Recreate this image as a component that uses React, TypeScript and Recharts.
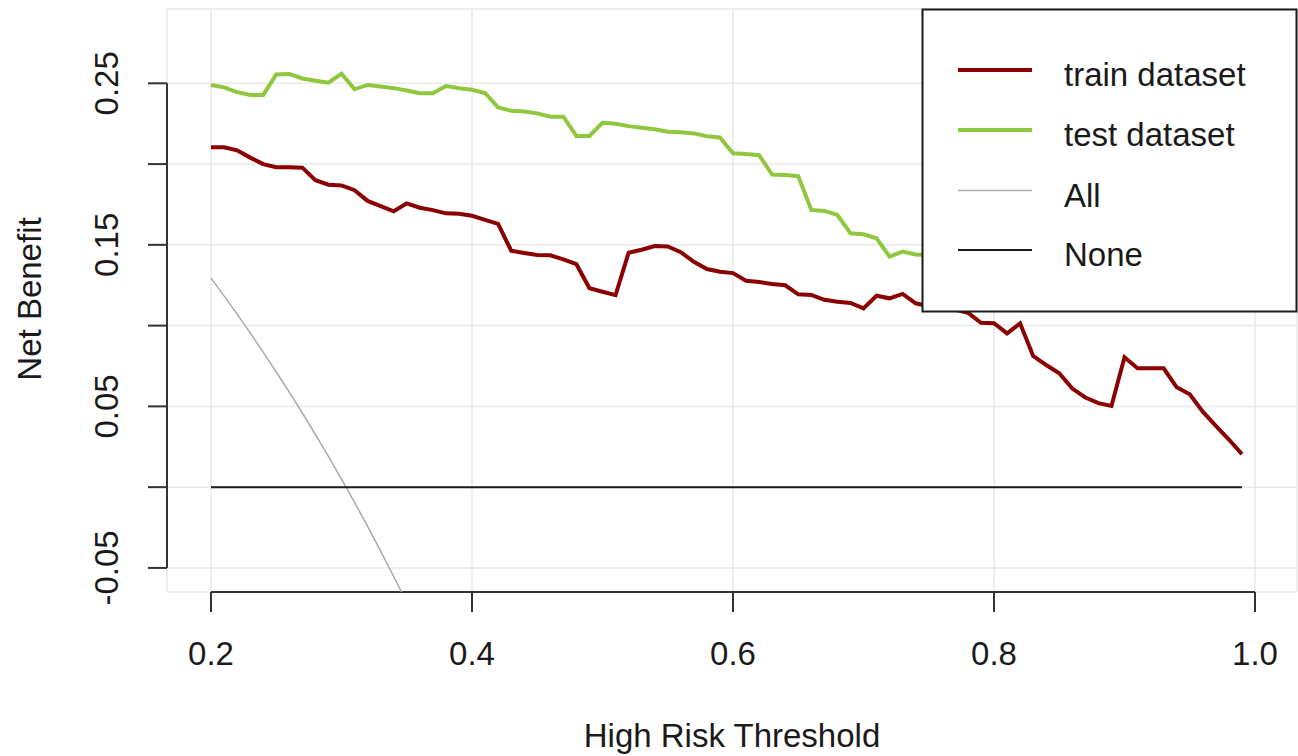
import { LineChart, Line, XAxis, YAxis, CartesianGrid, ReferenceLine } from "recharts";

// decision curve: net benefit by threshold
const thresholds = [
  0.2, 0.21, 0.22, 0.23, 0.24, 0.25, 0.26, 0.27, 0.28, 0.29,
  0.3, 0.31, 0.32, 0.33, 0.34, 0.35, 0.36, 0.37, 0.38, 0.39,
  0.4, 0.41, 0.42, 0.43, 0.44, 0.45, 0.46, 0.47, 0.48, 0.49,
  0.5, 0.51, 0.52, 0.53, 0.54, 0.55, 0.56, 0.57, 0.58, 0.59,
  0.6, 0.61, 0.62, 0.63, 0.64, 0.65, 0.66, 0.67, 0.68, 0.69,
  0.7, 0.71, 0.72, 0.73, 0.74, 0.75, 0.76, 0.77, 0.78, 0.79,
  0.8, 0.81, 0.82, 0.83, 0.84, 0.85, 0.86, 0.87, 0.88, 0.89,
  0.9, 0.91, 0.92, 0.93, 0.94, 0.95, 0.96, 0.97, 0.98, 0.99,
];

const trainNB = [
  0.2104, 0.2104, 0.2085, 0.204, 0.2, 0.198, 0.198, 0.1978, 0.19, 0.1872,
  0.1868, 0.1838, 0.1772, 0.174, 0.1708, 0.1757, 0.173, 0.1715, 0.1695, 0.1693,
  0.168, 0.1655, 0.163, 0.1464, 0.145, 0.1437, 0.1435, 0.141, 0.138, 0.1231,
  0.121, 0.1189, 0.1451, 0.147, 0.1493, 0.149, 0.1455, 0.1395, 0.135, 0.1334,
  0.1325, 0.1278, 0.127, 0.1258, 0.125, 0.1194, 0.119, 0.116, 0.1148, 0.114,
  0.1107, 0.1185, 0.1169, 0.1196, 0.1138, 0.112, 0.111, 0.11, 0.108, 0.1018,
  0.1015, 0.0952, 0.1014, 0.0812, 0.0756, 0.0705, 0.061, 0.0555, 0.052, 0.0503,
  0.0804, 0.0736, 0.0736, 0.0736, 0.0618, 0.0575, 0.0467, 0.038, 0.0295, 0.0205,
];

// test curve runs under the legend after ~0.74
const testNB = [
  0.249, 0.2475, 0.2445, 0.2428, 0.2428, 0.2555, 0.2558, 0.253, 0.2516, 0.2504,
  0.256, 0.2463, 0.249, 0.248, 0.247, 0.2455, 0.2438, 0.2438, 0.2483, 0.247,
  0.246, 0.244, 0.2351, 0.233, 0.2325, 0.2314, 0.2293, 0.2293, 0.2174, 0.2174,
  0.2256, 0.225, 0.2235, 0.2225, 0.2215, 0.22, 0.2197, 0.219, 0.2172, 0.2165,
  0.2067, 0.2062, 0.2055, 0.1935, 0.1932, 0.1925, 0.1716, 0.171, 0.1685, 0.1572,
  0.1565, 0.1541, 0.1427, 0.1458, 0.144, 0.1437,
];

// treat-all line leaves the plot at ~0.345
const allNB = [
  0.1294, 0.1184, 0.1071, 0.0955, 0.0836, 0.0713, 0.0588, 0.0459, 0.0326, 0.019,
  0.005, -0.0094, -0.0243, -0.0396, -0.0553, -0.0715, -0.0883,
];

const xTicks = [0.2, 0.4, 0.6, 0.8, 1.0];
const yTicks = [-0.05, 0, 0.05, 0.1, 0.15, 0.2, 0.25];
const yLabelled = [-0.05, 0.05, 0.15, 0.25];

const data = thresholds.map((t, i) => ({
  t,
  train: trainNB[i],
  test: i < testNB.length ? testNB[i] : null,
  all: i < allNB.length ? allNB[i] : null,
}));

const W = 1298;
const H = 756;
const X_MIN = 0.16628;
const X_MAX = 1.03218;
const Y_MIN = -0.0649;
const Y_MAX = 0.296;
const PLOT_LEFT = 167;
const PLOT_BOTTOM = 592;

const FONT = "'Liberation Sans', Arial, sans-serif";
const INK = "#1a1a1a";
const AXIS = "#333";
const RED = "#8B0000";
const GREEN = "#8FC73E";
const GREY = "#aaaaaa";

const XTick = (props: any) => {
  const { x, payload } = props;
  return (
    <g>
      <line x1={x} x2={x} y1={PLOT_BOTTOM} y2={PLOT_BOTTOM + 20} stroke={AXIS} strokeWidth={2} />
      <text x={x} y={665} textAnchor="middle" fontSize={33} fontFamily={FONT} fill={INK}>
        {Number(payload.value).toFixed(1)}
      </text>
    </g>
  );
};

const YTick = (props: any) => {
  const { y, payload } = props;
  const v = Number(payload.value);
  const show = yLabelled.some((l) => Math.abs(l - v) < 1e-9);
  return (
    <g>
      <line x1={PLOT_LEFT - 19} x2={PLOT_LEFT} y1={y} y2={y} stroke={AXIS} strokeWidth={2} />
      {show && (
        <text
          x={118}
          y={y}
          transform={`rotate(-90, 118, ${y})`}
          textAnchor="middle"
          fontSize={33}
          fontFamily={FONT}
          fill={INK}
        >
          {v.toFixed(2)}
        </text>
      )}
    </g>
  );
};

const legendItems = [
  { name: "train dataset", color: RED, width: 4 },
  { name: "test dataset", color: GREEN, width: 4 },
  { name: "All", color: GREY, width: 1.5 },
  { name: "None", color: INK, width: 2 },
];
const legendRows = [70, 130, 190.5, 250];

export default function App() {
  return (
    <div style={{ position: "absolute", left: 0, top: 0, width: W, height: H, background: "#fff" }}>
      <LineChart
        width={W}
        height={H}
        data={data}
        margin={{ top: 9, right: 1, bottom: 0, left: 0 }}
      >
        <CartesianGrid stroke="#e9e9e9" strokeWidth={1.5} />
        <XAxis
          dataKey="t"
          type="number"
          domain={[X_MIN, X_MAX]}
          allowDataOverflow
          ticks={xTicks}
          interval={0}
          height={164}
          axisLine={false}
          tickLine={false}
          tick={<XTick />}
        />
        <YAxis
          type="number"
          domain={[Y_MIN, Y_MAX]}
          allowDataOverflow
          ticks={yTicks}
          interval={0}
          width={167}
          axisLine={false}
          tickLine={false}
          tick={<YTick />}
        />
        <ReferenceLine
          segment={[{ x: 0.2, y: Y_MIN }, { x: 1.0, y: Y_MIN }]}
          stroke={AXIS}
          strokeWidth={2}
          ifOverflow="visible"
        />
        <ReferenceLine
          segment={[{ x: X_MIN, y: -0.05 }, { x: X_MIN, y: 0.25 }]}
          stroke={AXIS}
          strokeWidth={2}
          ifOverflow="visible"
        />
        <Line type="linear" dataKey="train" stroke={RED} strokeWidth={4} dot={false} isAnimationActive={false} />
        <Line type="linear" dataKey="test" stroke={GREEN} strokeWidth={4} dot={false} isAnimationActive={false} />
        <Line type="linear" dataKey="all" stroke={GREY} strokeWidth={1.5} dot={false} isAnimationActive={false} />
        <ReferenceLine
          segment={[{ x: thresholds[0], y: 0 }, { x: thresholds[thresholds.length - 1], y: 0 }]}
          stroke={INK}
          strokeWidth={2}
        />
      </LineChart>
      <svg
        width={W}
        height={H}
        style={{ position: "absolute", left: 0, top: 0, pointerEvents: "none" }}
      >
        <text
          x={41}
          y={299}
          transform="rotate(-90, 41, 299)"
          textAnchor="middle"
          fontSize={33}
          fontFamily={FONT}
          fill={INK}
        >
          Net Benefit
        </text>
        <text x={732} y={747} textAnchor="middle" fontSize={33} fontFamily={FONT} fill={INK}>
          High Risk Threshold
        </text>
        <rect x={922.5} y={9.5} width={374} height={302} fill="#fff" stroke={INK} strokeWidth={2} />
        {legendItems.map((it, i) => (
          <g key={it.name}>
            <line x1={958} x2={1032} y1={legendRows[i]} y2={legendRows[i]} stroke={it.color} strokeWidth={it.width} />
            <text x={1064} y={legendRows[i] + 16} fontSize={33} fontFamily={FONT} fill={INK}>
              {it.name}
            </text>
          </g>
        ))}
      </svg>
    </div>
  );
}
